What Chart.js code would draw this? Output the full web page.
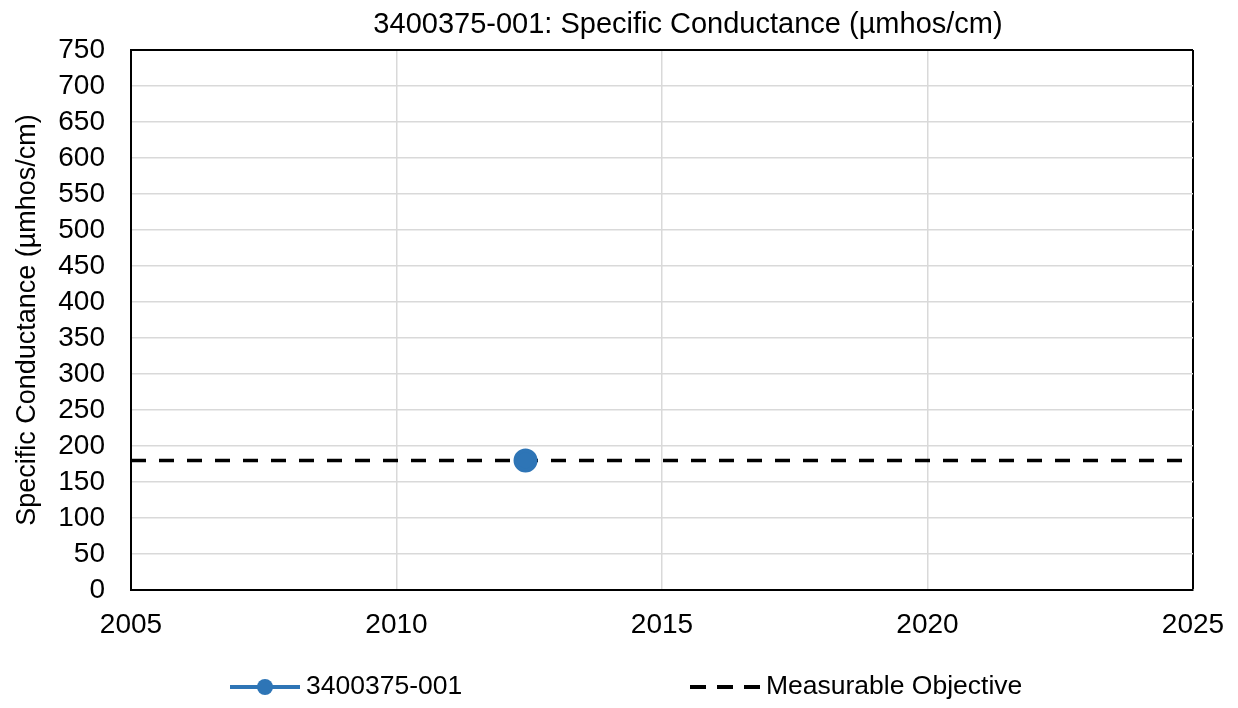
<!DOCTYPE html>
<html>
<head>
<meta charset="utf-8">
<script src="https://cdn.jsdelivr.net/npm/chart.js@4.4.1/dist/chart.umd.min.js"></script>
<style>
  body { margin: 0; background: #fff; }
  canvas { display: block; }
</style>
</head>
<body>
<canvas id="myChart" width="1238" height="708"></canvas>
<script>
// values
const wellName = '3400375-001';
const wellYears = [2012.43];
const wellValues = [180];
const objectiveYears = [2005, 2025];
const objectiveValues = [180, 180];
const yTicks = [0, 50, 100, 150, 200, 250, 300, 350, 400, 450, 500, 550, 600, 650, 700, 750];
const xTicks = [2005, 2010, 2015, 2020, 2025];

const FONT = '"Liberation Sans", Arial, sans-serif';
const BLUE = '#2E75B6';

// excel-ish legend drawn under the plot
const legendPlugin = {
  id: 'bottomLegend',
  afterDraw(chart) {
    const ctx = chart.ctx;
    const ds = chart.data.datasets;
    const y = 687;
    ctx.save();
    // series 1 : line + marker
    ctx.strokeStyle = ds[0].borderColor;
    ctx.lineWidth = 4;
    ctx.beginPath();
    ctx.moveTo(230, y);
    ctx.lineTo(300, y);
    ctx.stroke();
    ctx.fillStyle = ds[0].pointBackgroundColor;
    ctx.beginPath();
    ctx.arc(265, y, 8, 0, Math.PI * 2);
    ctx.fill();
    // series 2 : dashed line
    ctx.strokeStyle = ds[1].borderColor;
    ctx.lineWidth = 4;
    ctx.setLineDash([16, 11]);
    ctx.beginPath();
    ctx.moveTo(690, y);
    ctx.lineTo(762, y);
    ctx.stroke();
    ctx.setLineDash([]);
    ctx.fillStyle = '#000';
    ctx.font = '26.5px ' + FONT;
    ctx.textBaseline = 'middle';
    ctx.textAlign = 'left';
    ctx.fillText(ds[0].label, 306, y);
    ctx.fillText(ds[1].label, 766, y);
    ctx.restore();
  }
};

// title in the reference sits a bit right of the plot centre
const titleShift = {
  id: 'titleShift',
  afterLayout(chart) {
    if (chart.titleBlock) {
      chart.titleBlock.left += 26;
      chart.titleBlock.right += 26;
    }
  }
};

const ctx = document.getElementById('myChart').getContext('2d');
const myChart = new Chart(ctx, {
  type: 'line',
  data: {
    datasets: [{
      label: wellName,
      data: wellYears.map((x, i) => ({x: x, y: wellValues[i]})),
      borderColor: BLUE,
      backgroundColor: BLUE,
      pointBackgroundColor: BLUE,
      pointBorderColor: BLUE,
      pointRadius: 10,
      borderWidth: 4,
      showLine: true,
      order: 0
    },
    {
      label: 'Measurable Objective',
      data: objectiveYears.map((x, i) => ({x: x, y: objectiveValues[i]})),
      borderColor: '#000000',
      borderWidth: 3.5,
      borderDash: [15, 13],
      pointRadius: 0,
      fill: false,
      order: 1
    }]
  },
  options: {
    responsive: false,
    animation: false,
    layout: {
      padding: {left: 11, right: 45, top: 0, bottom: 68}
    },
    scales: {
      x: {
        type: 'linear',
        min: 2005,
        max: 2025,
        afterBuildTicks: (scale) => { scale.ticks = xTicks.map(v => ({value: v})); },
        afterFit: (scale) => {
          scale.height = 50;
          scale.paddingLeft = 0;
          scale.paddingRight = 0;
        },
        ticks: {
          color: '#000',
          font: {family: FONT, size: 28},
          padding: 18,
          maxRotation: 0,
          autoSkip: false,
          callback: (v) => String(v)
        },
        grid: {
          drawTicks: false,
          color: (c) => c.tick && c.tick.value === 2025 ? '#000' : '#D9D9D9',
          lineWidth: (c) => c.tick && c.tick.value === 2025 ? 2 : 1.5
        },
        border: {color: '#000', width: 2}
      },
      y: {
        min: 0,
        max: 750,
        afterBuildTicks: (scale) => { scale.ticks = yTicks.map(v => ({value: v})); },
        afterFit: (scale) => {
          scale.width = 120;
          scale.paddingTop = 0;
          scale.paddingBottom = 0;
        },
        ticks: {
          color: '#000',
          font: {family: FONT, size: 28},
          padding: 26,
          autoSkip: false
        },
        grid: {
          drawTicks: false,
          color: (c) => c.tick && c.tick.value === 750 ? '#000' : '#D9D9D9',
          lineWidth: (c) => c.tick && c.tick.value === 750 ? 2 : 1.5
        },
        border: {color: '#000', width: 2},
        title: {
          display: true,
          text: 'Specific Conductance (µmhos/cm)',
          color: '#000',
          font: {family: FONT, size: 27},
          padding: 0
        }
      }
    },
    plugins: {
      legend: {display: false},
      tooltip: {enabled: false},
      title: {
        display: true,
        fullSize: false,
        text: '3400375-001: Specific Conductance (µmhos/cm)',
        color: '#000',
        font: {family: FONT, size: 29, weight: 'normal'},
        padding: {top: 7.6, bottom: 7.6}
      }
    }
  },
  plugins: [legendPlugin, titleShift]
});
</script>
</body>
</html>
